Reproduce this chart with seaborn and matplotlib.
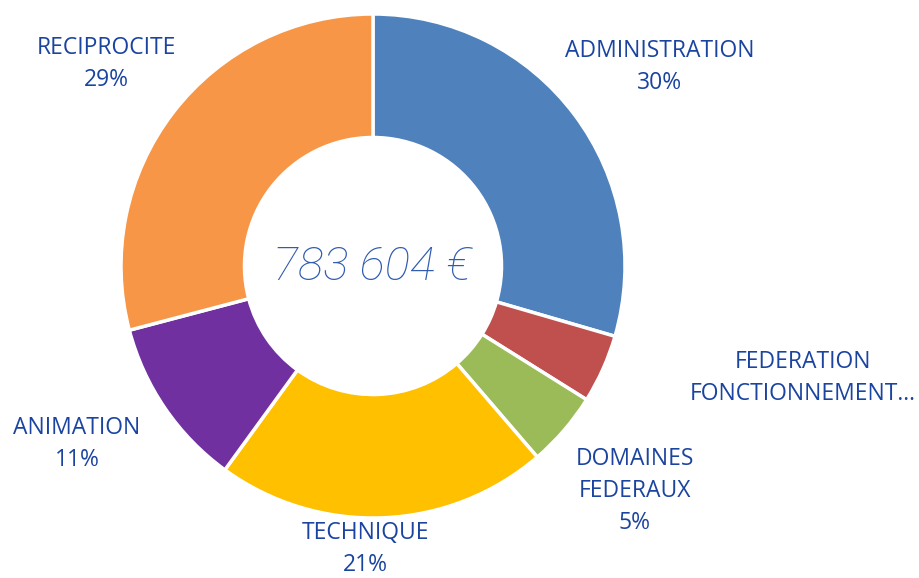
import numpy as np
import matplotlib.pyplot as plt
import seaborn as sns

# budget split, starting at 12 o'clock and going clockwise
categories = ["ADMINISTRATION", "FEDERATION\nFONCTIONNEMENT…", "DOMAINES\nFEDERAUX",
              "TECHNIQUE", "ANIMATION", "RECIPROCITE"]
shares = [29.5, 4.4, 4.8, 21.3, 10.9, 29.1]
show_pct = [True, False, True, True, True, True]
total_label = "783 604 €"

colors = ["#4F81BD", "#C0504D", "#9BBB59", "#FFC000", "#7030A0", "#F79646"]
# label centres in pixels (top-left origin)
label_pos = [(660, 67), (803, 378), (635, 491), (365, 549), (77, 444), (106, 64)]

sns.set_theme(style="white")
plt.rcParams['font.family'] = ['Open Sans', 'DejaVu Sans']

W, H = 919, 578
fig = plt.figure(figsize=(W / 100, H / 100), dpi=100)
ax = fig.add_axes([0, 0, 1, 1])

cx, cy, r = 373, H - 266, 252
ax.pie(shares, colors=colors, startangle=90, counterclock=False,
       center=(cx, cy), radius=r, frame=True,
       wedgeprops=dict(width=r * 0.49, edgecolor='white', linewidth=2.5))
ax.set_xlim(0, W)
ax.set_ylim(0, H)
ax.set_aspect('equal')
ax.axis('off')

txt_col = "#1A44A0"
for name, val, pct, (px, py) in zip(categories, shares, show_pct, label_pos):
    s = name + ("\n%d%%" % round(val) if pct else "")
    ax.text(px, H - py, s, ha='center', va='center', fontsize=16.5,
            color=txt_col, linespacing=1.45)

ax.text(cx - 1, cy - 1, total_label, ha='center', va='center', fontsize=34,
        color="#2F5BB0", fontstyle='italic', fontweight='light',
        family=['Roboto', 'DejaVu Sans'])

fig.savefig("out.png", dpi=100)
